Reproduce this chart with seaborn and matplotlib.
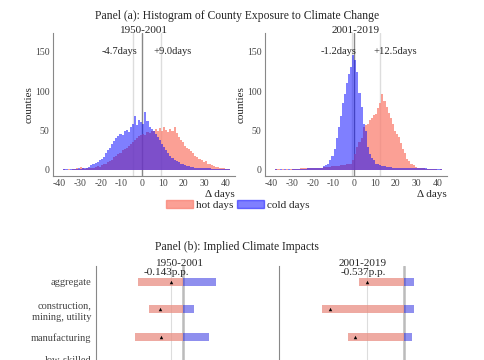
import numpy as np
import pandas as pd
import seaborn as sns
import matplotlib.pyplot as plt
from matplotlib.patches import Patch

# ---- histogram data: counties per 1-day bin (bin left edges -38..41) ----
days = list(range(-38, 42))

hot_1950 = [1, 0, 1, 0, 1, 1, 2, 1, 4, 2,
            1, 2, 3, 2, 3, 4, 5, 4, 6, 7,
            8, 10, 11, 13, 16, 18, 20, 22, 25, 27,
            28, 31, 33, 36, 38, 40, 43, 44, 46, 45,
            48, 47, 50, 49, 52, 50, 53, 49, 55, 51,
            48, 52, 50, 55, 47, 42, 38, 35, 31, 28,
            27, 24, 22, 18, 16, 14, 12, 10, 11, 8,
            7, 6, 5, 4, 4, 3, 2, 2, 1, 1]
cold_1950 = [1, 1, 0, 1, 1, 1, 1, 2, 1, 2,
             2, 3, 4, 6, 7, 9, 10, 12, 14, 17,
             22, 25, 28, 33, 37, 40, 43, 46, 44, 50,
             51, 48, 55, 58, 69, 57, 63, 61, 58, 74,
             62, 55, 52, 49, 46, 42, 38, 33, 29, 25,
             21, 18, 15, 13, 11, 10, 8, 7, 6, 5,
             5, 4, 4, 3, 3, 3, 2, 2, 2, 2,
             2, 1, 1, 1, 1, 1, 1, 1, 1, 1]
hot_2001 = [1, 1, 0, 1, 0, 1, 0, 1, 1, 1,
            1, 1, 2, 2, 2, 2, 3, 3, 3, 3,
            3, 3, 3, 4, 4, 4, 4, 5, 5, 5,
            5, 6, 6, 6, 7, 7, 8, 12, 20, 29,
            35, 40, 55, 57, 59, 63, 66, 70, 71, 79,
            85, 97, 88, 80, 72, 66, 58, 50, 46, 42,
            34, 27, 22, 14, 11, 8, 6, 4, 3, 2,
            2, 2, 1, 1, 1, 1, 1, 1, 0, 1]
cold_2001 = [1, 0, 1, 0, 1, 0, 1, 0, 1, 1,
             1, 1, 1, 1, 1, 2, 2, 2, 2, 2,
             3, 3, 3, 5, 6, 8, 12, 18, 26, 40,
             55, 68, 85, 97, 110, 122, 131, 146, 140, 125,
             98, 80, 58, 50, 29, 20, 15, 12, 8, 7,
             6, 5, 5, 4, 4, 4, 3, 3, 3, 3,
             3, 3, 3, 2, 2, 2, 2, 2, 2, 2,
             2, 2, 2, 1, 1, 1, 1, 1, 1, 1]

periods = ["1950-2001", "2001-2019"]
mean_shift = {"1950-2001": (-4.7, 9.0), "2001-2019": (-1.2, 12.5)}

# ---- implied impacts (p.p.) ----
sectors = ["aggregate", "construction,\nmining, utility", "manufacturing",
           "low-skilled\nservices"]
hot_imp_1950 = [-0.54, -0.40, -0.57, -0.50]
cold_imp_1950 = [0.39, 0.13, 0.31, 0.35]
net_imp_1950 = [-0.143, -0.27, -0.26, -0.15]
hot_imp_2001 = [-0.65, -1.19, -0.81, -0.70]
cold_imp_2001 = [0.14, 0.14, 0.12, 0.13]
net_imp_2001 = [-0.537, -1.07, -0.71, -0.57]

HOT = "salmon"
COLD = "blue"

sns.set_style("white")
plt.rcParams["font.family"] = ["Liberation Serif", "DejaVu Serif"]
plt.rcParams["axes.unicode_minus"] = False
plt.rcParams["axes.edgecolor"] = "#888888"
plt.rcParams["xtick.color"] = "#888888"
plt.rcParams["ytick.color"] = "#888888"
plt.rcParams["xtick.labelcolor"] = "#444444"
plt.rcParams["ytick.labelcolor"] = "#444444"

fig = plt.figure(figsize=(4.85, 3.6), dpi=100)

W, H = 485.0, 360.0


def px_axes(x0, y_top, w, h):
    return fig.add_axes([x0 / W, (H - y_top - h) / H, w / W, h / H])


edges = list(range(-38, 43))
hist_data = {
    "1950-2001": (hot_1950, cold_1950),
    "2001-2019": (hot_2001, cold_2001),
}

for i, period in enumerate(periods):
    ax = px_axes([53, 265][i], 33, 182, 143)
    hot, cold = hist_data[period]
    df = pd.DataFrame({"day": [d + 0.5 for d in days], "hot": hot, "cold": cold})
    sns.histplot(data=df, x="day", weights="hot", bins=edges, color=HOT,
                 alpha=0.75, linewidth=0, ax=ax)
    sns.histplot(data=df, x="day", weights="cold", bins=edges, color=COLD,
                 alpha=0.5, linewidth=0, ax=ax)
    lo, hi = mean_shift[period]
    ax.axvline(0, color="#888888", lw=1, zorder=0)
    ax.axvline(lo, color="#dddddd", lw=1, zorder=0)
    ax.axvline(hi, color="#dddddd", lw=1, zorder=0)
    ax.text(lo + 2.2, 150, f"{lo:.1f}days", ha="right", va="center", fontsize=7.6)
    ax.text(hi - 3.5, 150, f"+{hi:.1f}days", ha="left", va="center", fontsize=7.6)
    ax.set_xlim(-43, 44.6)
    ax.set_ylim(-7.7, 174)
    ax.set_xticks(range(-40, 41, 10))
    ax.set_yticks([0, 50, 100, 150])
    ax.tick_params(labelsize=7, length=2, width=0.6, pad=0.5)
    sns.despine(ax=ax)
    ax.set_ylabel("counties", fontsize=8)
    ax.yaxis.set_label_coords(-0.105, 0.5)
    ax.set_xlabel("Δ days", fontsize=8, ha="right")
    ax.xaxis.set_label_coords(1.0, -0.095)
    ax.set_title(period, fontsize=8, pad=0)

fig.text(237 / W, 1 - 16 / H,
         "Panel (a): Histogram of County Exposure to Climate Change",
         ha="center", va="center", fontsize=8.4)

fig.legend(handles=[Patch(color=HOT, alpha=0.75, label="hot days"),
                    Patch(color=COLD, alpha=0.5, label="cold days")],
           loc="center", bbox_to_anchor=(238 / W, 1 - 205 / H), ncol=2,
           frameon=False, fontsize=8, handlelength=2.4, handleheight=0.8,
           handletextpad=0.3, columnspacing=0.3)

# ---- Panel (b) ----
fig.text(237 / W, 1 - 247 / H, "Panel (b): Implied Climate Impacts",
         ha="center", va="center", fontsize=8.4)

imp = {
    "1950-2001": (hot_imp_1950, cold_imp_1950, net_imp_1950, (-1.036, 0.964)),
    "2001-2019": (hot_imp_2001, cold_imp_2001, net_imp_2001, (-1.81, 0.62)),
}
for i, period in enumerate(periods):
    ax = px_axes([96, 279][i], 266, 168, 137.5)
    hot, cold, net, xl = imp[period]
    dfb = pd.DataFrame({"sector": sectors, "hot": hot, "cold": cold, "net": net})
    sns.barplot(data=dfb, x="hot", y="sector", color=HOT, alpha=0.75,
                width=0.29, linewidth=0, ax=ax, orient="h")
    sns.barplot(data=dfb, x="cold", y="sector", color=COLD, alpha=0.5,
                width=0.29, linewidth=0, ax=ax, orient="h")
    sns.stripplot(data=dfb, x="net", y="sector", marker="^", jitter=False,
                  color="black", size=2.5, ax=ax, orient="h", zorder=5)
    ax.axvline(0, color="#bbbbbb", lw=1.8, zorder=0)
    ax.axvline(net[0], color="#dddddd", lw=0.8, zorder=0)
    ax.text(net[0] - 0.05, -0.36, f"{net[0]:.3f}p.p.", ha="center",
            va="center", fontsize=8)
    ax.set_xlim(*xl)
    ax.set_ylim(4.42, -0.58)
    ax.set_xlabel("")
    ax.set_ylabel("")
    ax.tick_params(labelsize=7.5, length=2.5, width=0.6, pad=1)
    for lab in ax.get_yticklabels():
        lab.set_linespacing(1.4)
    if i == 1:
        ax.set_yticklabels([])
    sns.despine(ax=ax)
    ax.set_title(period, fontsize=8, pad=0)

fig.savefig("out.png", dpi=100)
